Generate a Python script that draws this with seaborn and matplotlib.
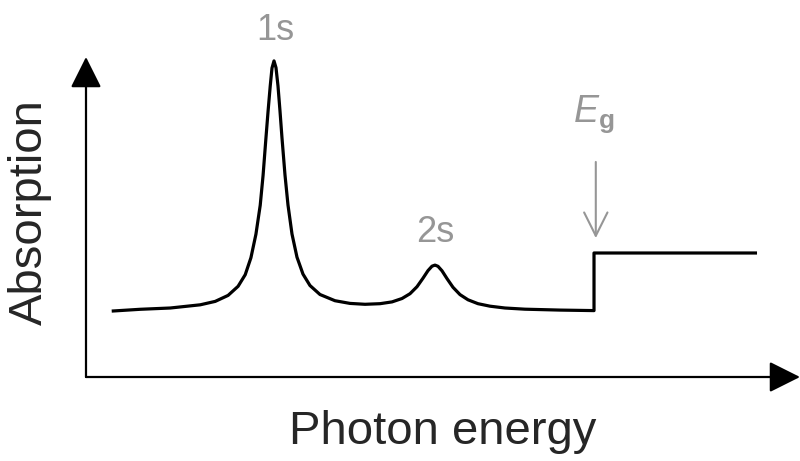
import matplotlib
matplotlib.use('Agg')
import matplotlib.pyplot as plt
import seaborn as sns

# curve (arbitrary units: photon energy, absorption)
energy = [0.36, 0.76, 1.18, 1.60, 1.81, 1.99, 2.13, 2.23, 2.31, 2.38, 2.44, 2.48,
          2.52, 2.55, 2.58, 2.605, 2.633, 2.661, 2.689, 2.717, 2.745, 2.787, 2.829,
          2.885, 2.955, 3.039, 3.137, 3.277, 3.487, 3.697, 3.908, 4.118, 4.286,
          4.426, 4.538, 4.636, 4.720, 4.790, 4.846, 4.888, 4.930, 4.986, 5.056,
          5.140, 5.238, 5.350, 5.490, 5.658, 5.868, 6.148, 6.639, 7.115, 7.115,
          9.398]
absorption = [2.06, 2.116, 2.156, 2.256, 2.363, 2.55, 2.834, 3.197, 3.728, 4.463,
              5.366, 6.30, 7.463, 8.306, 9.088, 9.656, 9.878, 9.666, 9.094, 8.313,
              7.469, 6.313, 5.375, 4.469, 3.744, 3.216, 2.859, 2.578, 2.384, 2.30,
              2.272, 2.291, 2.347, 2.453, 2.603, 2.822, 3.088, 3.325, 3.463, 3.497,
              3.459, 3.319, 3.075, 2.803, 2.575, 2.413, 2.291, 2.213, 2.156, 2.119,
              2.091, 2.075, 3.875, 3.875]

peak_labels = ["1s", "2s"]
peak_x = [2.65, 4.89]
peak_label_y = [10.84, 4.53]
gap_x = 7.14
gap_label = r"$E_\mathrm{g}$"

GRAY = "#969696"

sns.set_theme(style="white")
plt.rcParams['font.family'] = ['Liberation Sans', 'DejaVu Sans']
plt.rcParams['mathtext.fontset'] = 'custom'
plt.rcParams['mathtext.it'] = 'Liberation Sans:italic'
plt.rcParams['mathtext.rm'] = 'Liberation Sans:bold'

fig = plt.figure(figsize=(8, 4.61), dpi=100)
ax = fig.add_axes([86 / 800, 84 / 461, 714 / 800, 320 / 461])

sns.lineplot(x=energy, y=absorption, sort=False, estimator=None, color="black",
             linewidth=2.3, ax=ax)
for line in ax.lines:
    line.set_solid_joinstyle("round")
    line.set_solid_capstyle("butt")

ax.set_xlim(0, 10)
ax.set_ylim(0, 10)
ax.set_xticks([])
ax.set_yticks([])
for s in ax.spines.values():
    s.set_visible(False)

# axes drawn as arrows
arrow_kw = dict(arrowstyle="-|>,head_length=0.4,head_width=0.2", color="black",
                lw=1.6, mutation_scale=48, shrinkA=0, shrinkB=0)
ax.annotate("", xy=(1, 0), xytext=(0, 0), xycoords="axes fraction",
            arrowprops=arrow_kw, annotation_clip=False)
ax.annotate("", xy=(0, 1), xytext=(0, 0), xycoords="axes fraction",
            arrowprops=arrow_kw, annotation_clip=False)

for lab, px, py in zip(peak_labels, peak_x, peak_label_y):
    ax.text(px, py, lab, color=GRAY, fontsize=26, ha="center", va="center",
            clip_on=False)

ax.text(gap_x - 0.03, 8.2, gap_label, color=GRAY, fontsize=27, ha="center",
        va="center", clip_on=False)
ax.annotate("", xy=(gap_x, 4.34), xytext=(gap_x, 6.72),
            arrowprops=dict(arrowstyle="->,head_length=0.4,head_width=0.2",
                            color=GRAY, lw=1.5, mutation_scale=42,
                            shrinkA=0, shrinkB=0))

fig.text(443 / 800, 1 - 432 / 461, "Photon energy", fontsize=34, ha="center",
         va="center")
fig.text(30 / 800, 1 - 212 / 461, "Absorption", fontsize=34, ha="center",
         va="center", rotation=90)

fig.savefig("out.png", dpi=100)
